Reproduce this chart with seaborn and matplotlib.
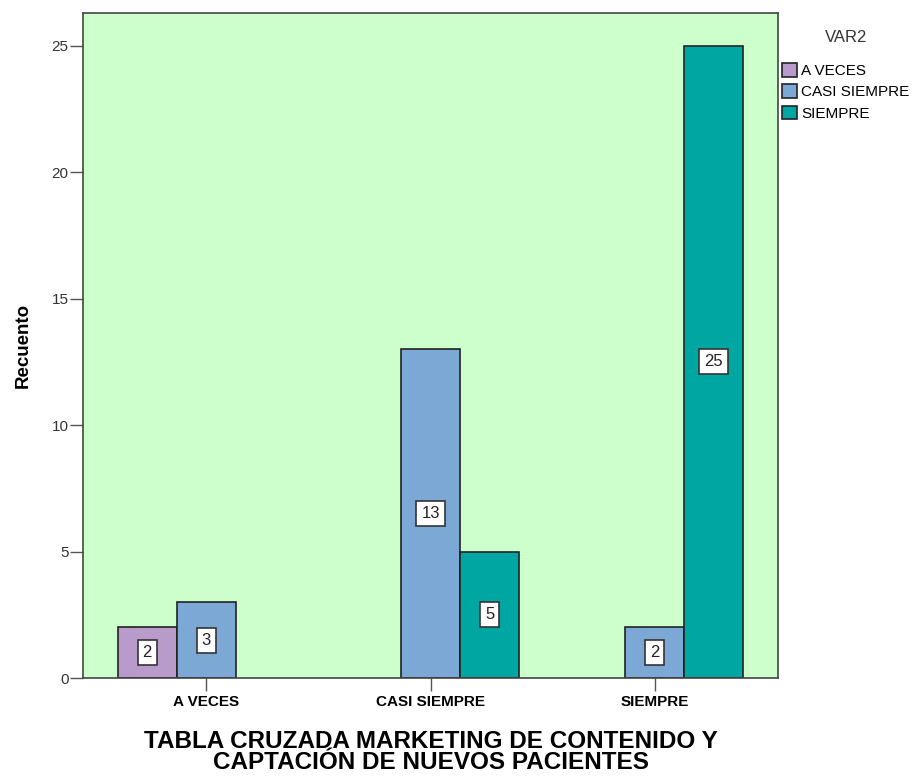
import matplotlib
matplotlib.use("Agg")
import matplotlib.pyplot as plt
import seaborn as sns
import pandas as pd

categories = ["A VECES", "CASI SIEMPRE", "SIEMPRE"]
hue_levels = ["A VECES", "CASI SIEMPRE", "SIEMPRE"]
group_x = ["A VECES", "A VECES", "CASI SIEMPRE", "CASI SIEMPRE", "SIEMPRE", "SIEMPRE"]
group_hue = ["A VECES", "CASI SIEMPRE", "CASI SIEMPRE", "SIEMPRE", "CASI SIEMPRE", "SIEMPRE"]
counts = [2, 3, 13, 5, 2, 25]
colors = ["#B99BCB", "#7CA8D6", "#00A6A1"]

df = pd.DataFrame({"cat": group_x, "var2": group_hue, "n": counts})

sns.set_style("white")
plt.rcParams['font.family'] = ['Liberation Sans', 'DejaVu Sans']
plt.rcParams['text.color'] = 'black'

fig = plt.figure(figsize=(9.21, 7.8), dpi=100)
ax = fig.add_axes([83/921, 1-678/780, (778-83)/921, (678-13)/780])
ax.set_facecolor("#CCFFCC")

sns.barplot(data=df, x="cat", y="n", hue="var2", order=categories,
            hue_order=hue_levels, palette=colors, width=0.79,
            edgecolor="#222222", linewidth=1.2, ax=ax, legend=True, errorbar=None,
            saturation=1)

for cont in ax.containers:
    for bar in cont:
        h = bar.get_height()
        if h and h > 0:
            ax.text(bar.get_x() + bar.get_width()/2, h/2, f"{int(round(h))}",
                    ha="center", va="center", fontsize=12, color="#222222",
                    bbox=dict(boxstyle="square,pad=0.3", fc="white", ec="#333333", lw=1.2))

ax.set_xlim(-0.55, 2.55)
ax.set_ylim(0, 26.3)
ax.set_yticks([0, 5, 10, 15, 20, 25])
ax.tick_params(axis="both", which="both", length=9.5, width=1, color="#555555",
               direction="out", left=True, bottom=True)
ax.tick_params(axis="y", labelsize=11, labelcolor="#333333", pad=1)
ax.tick_params(axis="x", labelsize=11, labelcolor="black", pad=3)
for lab in ax.get_xticklabels():
    lab.set_fontweight("bold")
for s in ax.spines.values():
    s.set_color("#444444")
    s.set_linewidth(1.2)
    s.set_visible(True)

ax.set_ylabel("Recuento", fontsize=13.5, fontweight="bold", labelpad=14, color="black")
ax.set_xlabel("TABLA CRUZADA MARKETING DE CONTENIDO Y\nCAPTACIÓN DE NUEVOS PACIENTES",
              fontsize=17.5, fontweight="bold", labelpad=15, linespacing=0.9, color="black")

handles, labels = ax.get_legend_handles_labels()
if ax.legend_:
    ax.legend_.remove()
leg = fig.legend(handles, labels, title="VAR2", loc="upper left",
                 bbox_to_anchor=(776/921, 1-24/780), frameon=False,
                 fontsize=11, title_fontsize=12, handlelength=1.0, handleheight=1.0,
                 handletextpad=0.25, labelspacing=0.4, borderaxespad=0)
leg.get_title().set_color("#333333")
for t in leg.get_texts():
    t.set_color("black")
for p in leg.get_patches():
    p.set_edgecolor("#222222")
    p.set_linewidth(1.2)
leg._legend_box.align = "center"
leg._legend_box.sep = 13

fig.savefig("out.png", dpi=100)
